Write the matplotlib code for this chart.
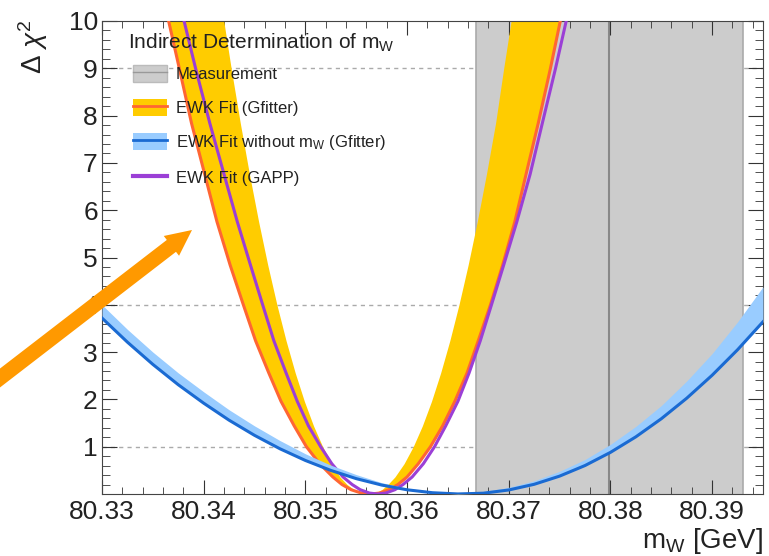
import matplotlib
matplotlib.use('Agg')
import matplotlib.pyplot as plt
from matplotlib.patches import Patch, FancyArrow
from matplotlib.lines import Line2D
from matplotlib.ticker import MultipleLocator, FormatStrFormatter

plt.rcParams['font.family'] = ['Liberation Sans', 'DejaVu Sans']
plt.rcParams['mathtext.fontset'] = 'custom'
plt.rcParams['mathtext.rm'] = 'Liberation Sans'
plt.rcParams['mathtext.it'] = 'Liberation Sans:italic'

# measurement (world average band)
meas_center = 80.3799
meas_err = 0.0131

# EWK fit without mW (Gfitter): sampled in mW
blue_x = [80.330, 80.3325, 80.335, 80.3375, 80.340, 80.3425, 80.345, 80.3475, 80.350,
          80.3525, 80.355, 80.3575, 80.360, 80.3625, 80.365, 80.3675, 80.370, 80.3725,
          80.375, 80.3775, 80.380, 80.3825, 80.385, 80.3875, 80.390, 80.3925, 80.395]
blue_line = [3.72, 3.21, 2.74, 2.31, 1.92, 1.56, 1.24, 0.956, 0.709,
             0.499, 0.325, 0.189, 0.089, 0.027, 0.001, 0.017, 0.085, 0.205,
             0.378, 0.602, 0.880, 1.209, 1.591, 2.025, 2.511, 3.050, 3.641]
blue_upper = [4.00, 3.48, 3.00, 2.56, 2.16, 1.78, 1.44, 1.13, 0.85,
              0.61, 0.41, 0.24, 0.12, 0.05, 0.02, 0.05, 0.14, 0.28,
              0.48, 0.73, 1.05, 1.43, 1.87, 2.39, 2.97, 3.64, 4.38]

# steep curves: mW positions of left / right branch at given delta chi2 levels
levels = [0, 0.02, 0.09, 0.2, 0.36, 0.64, 1, 1.44, 1.96, 2.56, 3.24, 4, 4.84, 5.76, 6.76, 7.84, 9, 10.24]

red_left = [80.3564, 80.3555, 80.3545, 80.3536, 80.3527, 80.3514, 80.3501, 80.3489, 80.3476,
            80.3464, 80.3451, 80.3439, 80.3426, 80.3413, 80.3401, 80.3388, 80.3376, 80.3363]
red_right = [80.3564, 80.3573, 80.3582, 80.3591, 80.3600, 80.3611, 80.3623, 80.3635, 80.3647,
             80.3659, 80.3670, 80.3682, 80.3694, 80.3706, 80.3717, 80.3729, 80.3741, 80.3753]
band_left = [80.3561, 80.3555, 80.3548, 80.3541, 80.3534, 80.3526, 80.3517, 80.3508, 80.3499,
             80.3490, 80.3481, 80.3472, 80.3463, 80.3454, 80.3445, 80.3436, 80.3427, 80.3418]
band_right = [80.3561, 80.3568, 80.3575, 80.3581, 80.3588, 80.3597, 80.3606, 80.3615, 80.3624,
              80.3633, 80.3642, 80.3651, 80.3660, 80.3669, 80.3678, 80.3687, 80.3695, 80.3704]
gapp_left = [80.3571, 80.3563, 80.3554, 80.3546, 80.3537, 80.3526, 80.3515, 80.3503, 80.3492,
             80.3481, 80.3469, 80.3458, 80.3446, 80.3433, 80.3420, 80.3406, 80.3392, 80.3378]
gapp_right = [80.3571, 80.3579, 80.3588, 80.3596, 80.3605, 80.3616, 80.3627, 80.3638, 80.3650,
              80.3661, 80.3672, 80.3683, 80.3695, 80.3708, 80.3721, 80.3733, 80.3746, 80.3759]

c_gray = '#cccccc'
c_yellow = '#ffcc00'
c_red = '#ff6633'
c_lblue = '#99ccff'
c_blue = '#1a6ad2'
c_purple = '#9b3fd6'
c_text = '#222222'

fig = plt.figure(figsize=(7.69, 5.56), dpi=100)
ax = fig.add_axes([102 / 769, 62 / 556, 661 / 769, 473 / 556])

for lvl in [1, 4, 9]:
    ax.axhline(lvl, color='#aaaaaa', lw=1, ls=(0, (3, 3)), zorder=0.5)

ax.axvspan(meas_center - meas_err, meas_center + meas_err, color=c_gray, lw=0, zorder=1)
ax.axvline(meas_center - meas_err, color='#aaaaaa', lw=1.2, zorder=1.1)
ax.axvline(meas_center + meas_err, color='#aaaaaa', lw=1.2, zorder=1.1)
ax.axvline(meas_center, color='#888888', lw=1.5, zorder=1.1)

ax.fill_betweenx(levels, red_left, band_left, color=c_yellow, lw=0, zorder=2)
ax.fill_betweenx(levels, band_right, red_right, color=c_yellow, lw=0, zorder=2)
ax.plot(red_left[::-1] + red_right, levels[::-1] + levels, color=c_red, lw=2.2, zorder=3)
ax.plot(gapp_left[::-1] + gapp_right, levels[::-1] + levels, color=c_purple, lw=2.2, zorder=3.2)

ax.fill_between(blue_x, blue_line, blue_upper, color=c_lblue, lw=0, zorder=3.5)
ax.plot(blue_x, blue_line, color=c_blue, lw=2.2, zorder=3.6)

ax.set_xlim(80.33, 80.395)
ax.set_ylim(0, 10)
ax.xaxis.set_major_locator(MultipleLocator(0.01))
ax.xaxis.set_minor_locator(MultipleLocator(0.002))
ax.xaxis.set_major_formatter(FormatStrFormatter('%.2f'))
ax.set_yticks(range(1, 11))
ax.yaxis.set_minor_locator(MultipleLocator(0.2))
ax.tick_params(which='both', direction='in', top=True, right=True, colors='#333333',
               labelsize=19, labelcolor=c_text)
ax.tick_params(axis='x', which='major', length=10, pad=4)
ax.tick_params(axis='x', which='minor', length=5)
ax.tick_params(axis='y', which='major', length=11, pad=3)
ax.tick_params(axis='y', which='minor', length=6)
for sp in ax.spines.values():
    sp.set_color('#444444')

ax.set_xlabel(r'm$_{\mathrm{W}}$ [GeV]', loc='right', fontsize=20, color=c_text)
ax.xaxis.set_label_coords(1.0, -0.068)
fig.text(33 / 769, 1 - 47 / 556, r'$\Delta\ \chi^{2}$', rotation=90, ha='center', va='center',
         fontsize=20, color=c_text)

# legend
ax.text(0.0393, 0.9535, r'Indirect Determination of m$_{\mathrm{W}}$', transform=ax.transAxes,
        ha='left', va='center', fontsize=15, color=c_text, zorder=6)
handles = [
    (Patch(fc=c_gray, ec='#bbbbbb'), Line2D([], [], color='#999999', lw=1)),
    (Patch(fc=c_yellow, ec='none'), Line2D([], [], color=c_red, lw=2)),
    (Patch(fc=c_lblue, ec='none'), Line2D([], [], color=c_blue, lw=2)),
    Line2D([], [], color=c_purple, lw=3),
]
labels = ['Measurement', 'EWK Fit (Gfitter)',
          r'EWK Fit without m$_{\mathrm{W}}$ (Gfitter)', 'EWK Fit (GAPP)']
leg = ax.legend(handles, labels, loc='upper left', bbox_to_anchor=(0.0469, 0.907),
                frameon=False, fontsize=12, handlelength=2.05, handleheight=1.2,
                handletextpad=0.5, labelspacing=1.0, borderpad=0, borderaxespad=0)
for t in leg.get_texts():
    t.set_color(c_text)

# orange pointer arrow (annotation)
arrow = FancyArrow(-0.1, 1.703, 2.02, 1.557, width=0.15, head_width=0.25, head_length=0.26,
                   length_includes_head=True, color='#ff9900', lw=0,
                   transform=fig.dpi_scale_trans, zorder=10)
fig.add_artist(arrow)

fig.savefig('out.png', dpi=100)
